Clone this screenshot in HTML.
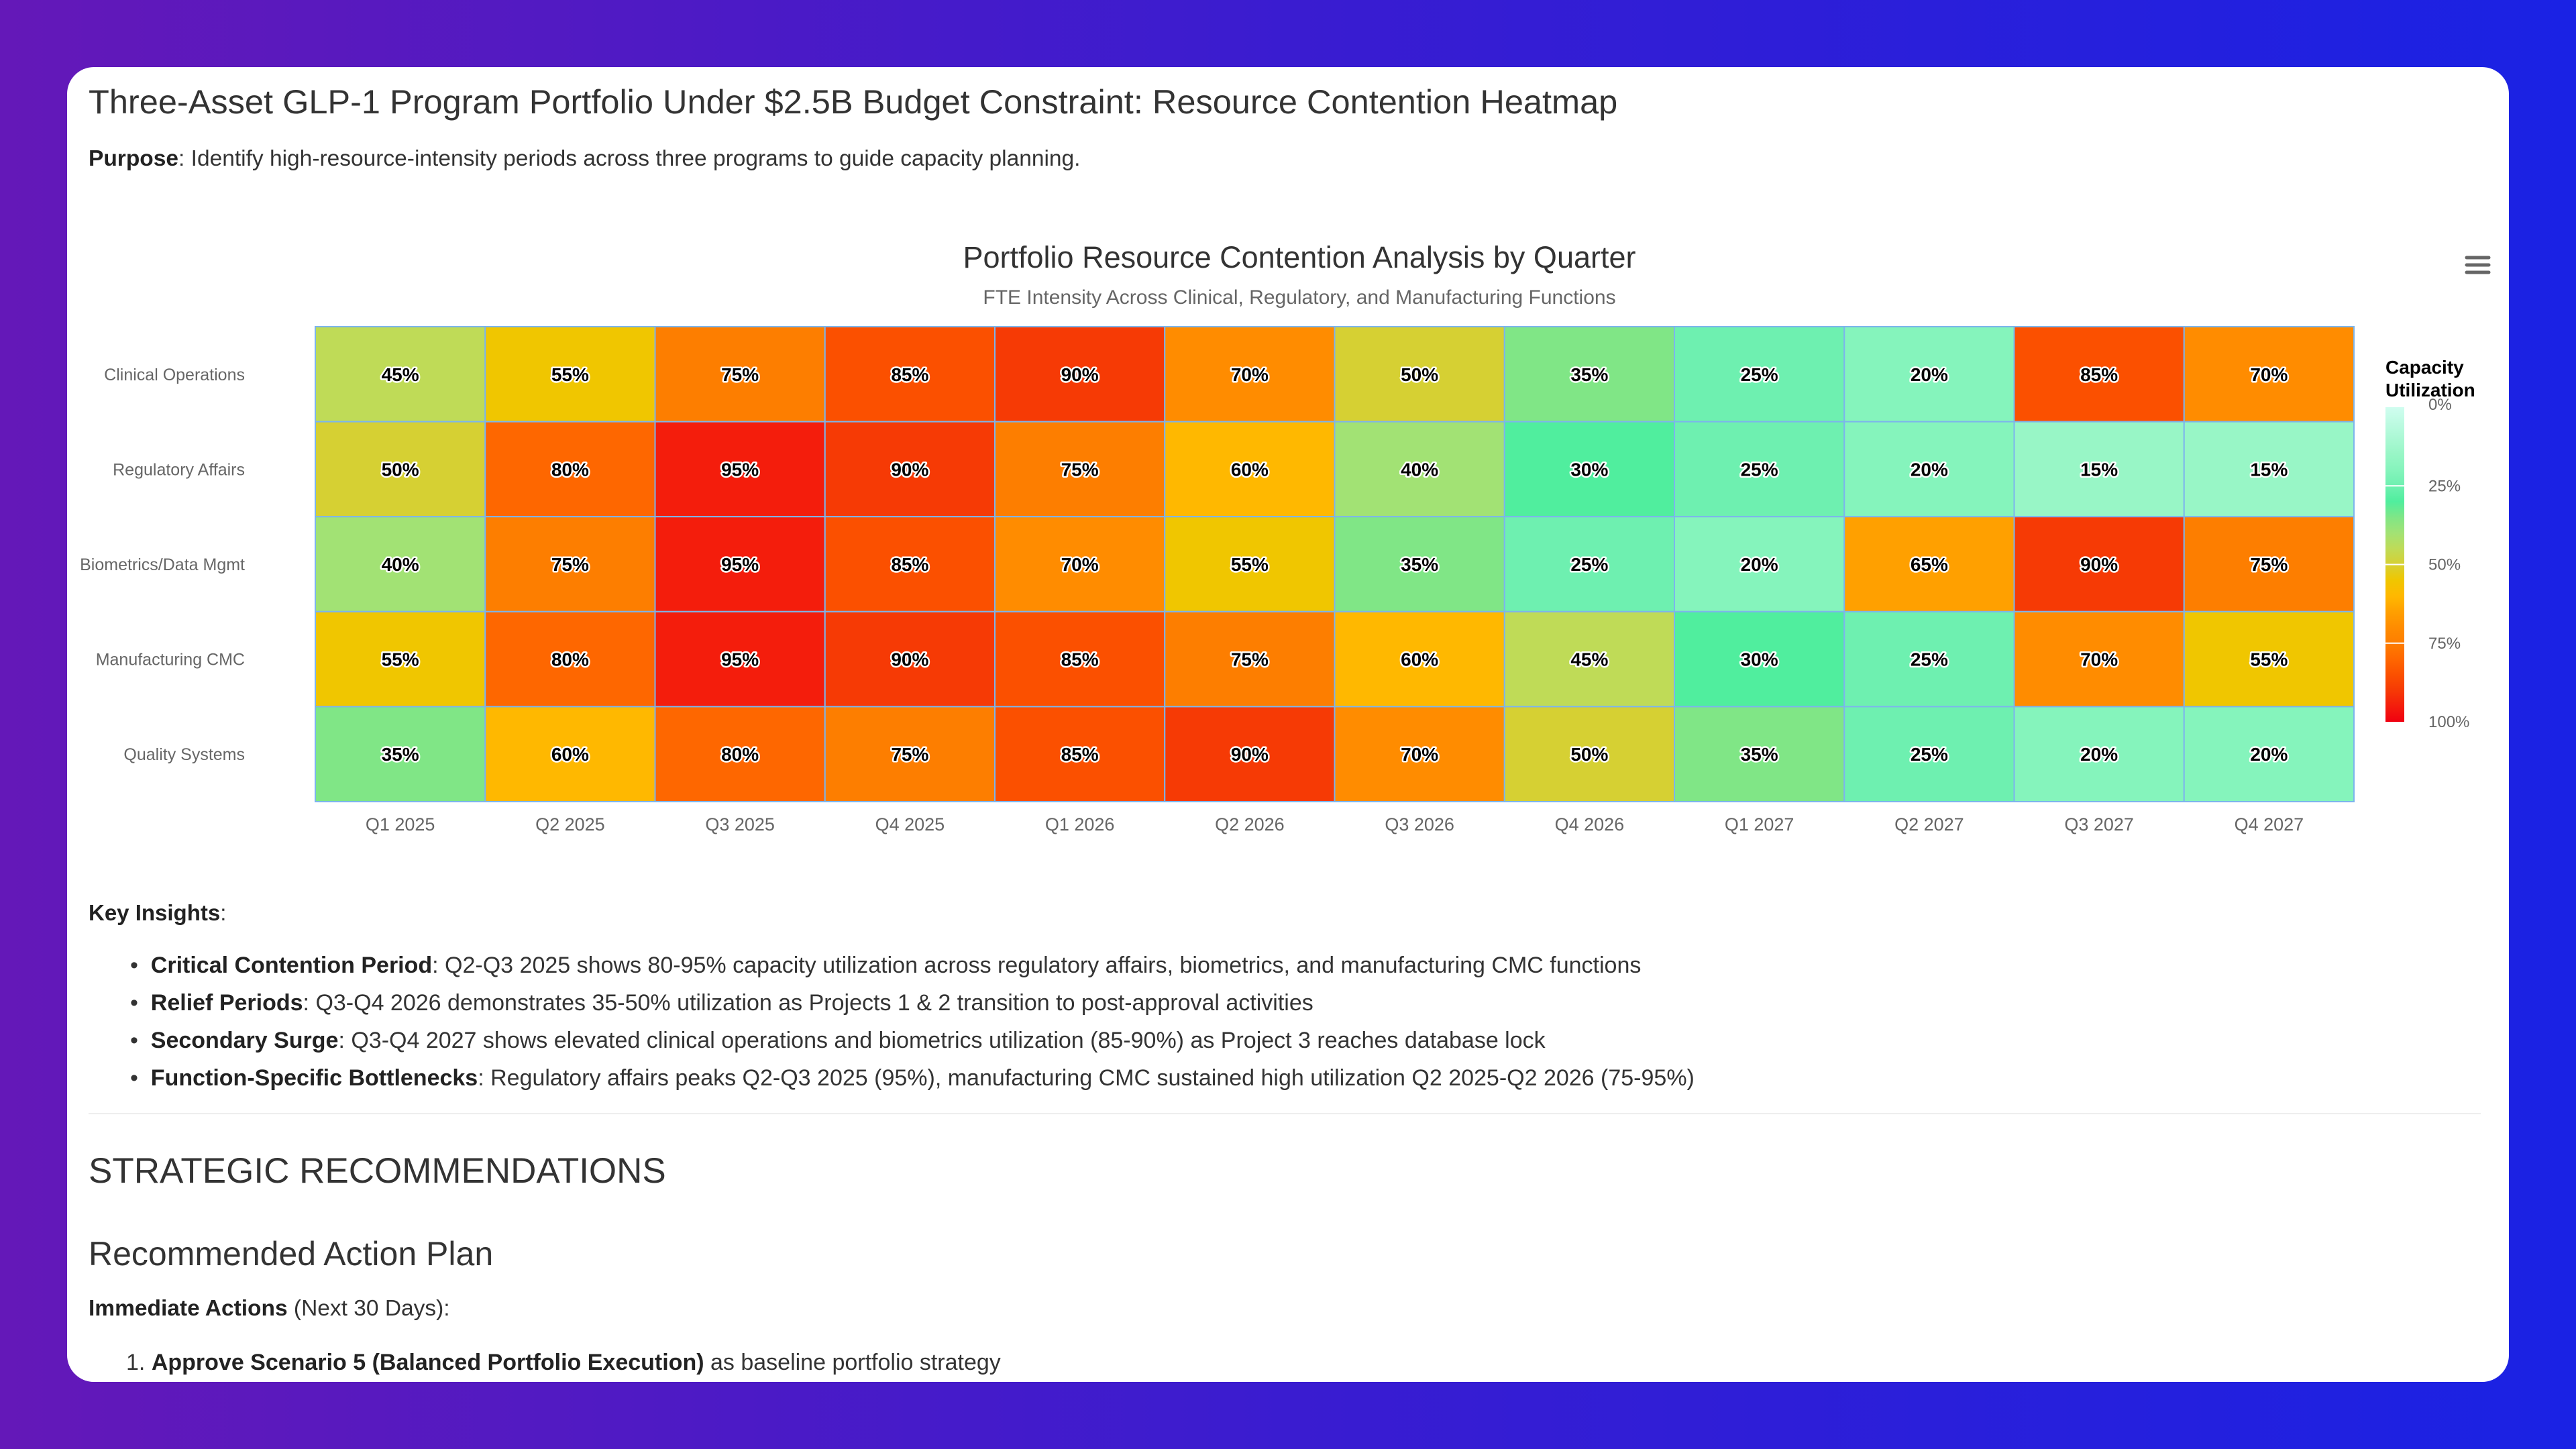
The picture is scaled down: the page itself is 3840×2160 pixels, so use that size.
<!DOCTYPE html>
<html><head><meta charset="utf-8"><style>
*{margin:0;padding:0;box-sizing:border-box}
body{width:3840px;height:2160px;overflow:hidden;background:linear-gradient(90deg,#6418b8 0%,#3a1cd0 50%,#1a22e4 100%);font-family:"Liberation Sans",sans-serif;color:#333}
#card{position:absolute;left:100px;top:100px;width:3640px;height:1960px;background:#fff;border-radius:40px;overflow:hidden}
.t{position:absolute;white-space:nowrap}
b{font-weight:bold;color:#222}
ul li{position:absolute;list-style:none;white-space:nowrap;font-size:34px}
</style></head><body>
<div id="card">
<div class="t" style="left:32px;top:22px;font-size:50.5px;color:#333">Three-Asset GLP-1 Program Portfolio Under $2.5B Budget Constraint: Resource Contention Heatmap</div>
<div class="t" style="left:32px;top:118px;font-size:33.5px"><b>Purpose</b>: Identify high-resource-intensity periods across three programs to guide capacity planning.</div>
<svg id="chart" width="3640" height="1160" style="position:absolute;left:0;top:0"></svg>
<div class="t" style="left:32px;top:1242px;font-size:33px"><b>Key Insights</b>:</div>
<ul>
<li style="left:94px;top:1320px">•&nbsp;&nbsp;<b>Critical Contention Period</b>: Q2-Q3 2025 shows 80-95% capacity utilization across regulatory affairs, biometrics, and manufacturing CMC functions</li>
<li style="left:94px;top:1376px">•&nbsp;&nbsp;<b>Relief Periods</b>: Q3-Q4 2026 demonstrates 35-50% utilization as Projects 1 &amp; 2 transition to post-approval activities</li>
<li style="left:94px;top:1432px">•&nbsp;&nbsp;<b>Secondary Surge</b>: Q3-Q4 2027 shows elevated clinical operations and biometrics utilization (85-90%) as Project 3 reaches database lock</li>
<li style="left:94px;top:1488px">•&nbsp;&nbsp;<b>Function-Specific Bottlenecks</b>: Regulatory affairs peaks Q2-Q3 2025 (95%), manufacturing CMC sustained high utilization Q2 2025-Q2 2026 (75-95%)</li>
</ul>
<div style="position:absolute;left:32px;top:1559px;width:3566px;border-top:2px solid #eee"></div>
<div class="t" style="left:32px;top:1615px;font-size:53px;color:#333">STRATEGIC RECOMMENDATIONS</div>
<div class="t" style="left:32px;top:1740px;font-size:50px;color:#333">Recommended Action Plan</div>
<div class="t" style="left:32px;top:1832px;font-size:33.5px"><b>Immediate Actions</b> (Next 30 Days):</div>
<div class="t" style="left:88px;top:1912px;font-size:34px">1. <b>Approve Scenario 5 (Balanced Portfolio Execution)</b> as baseline portfolio strategy</div>
</div>
<script>
const categories=["Q1 2025","Q2 2025","Q3 2025","Q4 2025","Q1 2026","Q2 2026","Q3 2026","Q4 2026","Q1 2027","Q2 2027","Q3 2027","Q4 2027"];
const functions=["Clinical Operations","Regulatory Affairs","Biometrics/Data Mgmt","Manufacturing CMC","Quality Systems"];
const clinicalOps=[45,55,75,85,90,70,50,35,25,20,85,70];
const regulatoryAffairs=[50,80,95,90,75,60,40,30,25,20,15,15];
const biometrics=[40,75,95,85,70,55,35,25,20,65,90,75];
const manufacturingCMC=[55,80,95,90,85,75,60,45,30,25,70,55];
const qualitySystems=[35,60,80,75,85,90,70,50,35,25,20,20];
const legendTicks=[0,25,50,75,100];
const series=[clinicalOps,regulatoryAffairs,biometrics,manufacturingCMC,qualitySystems];

const stops=[[0,'#d0fdf0'],[0.15,'#98f6c6'],[0.2,'#85f4bc'],[0.25,'#6ef0b0'],[0.3,'#50ee9e'],[0.35,'#80e686'],[0.4,'#a2e274'],[0.45,'#bfdb57'],[0.5,'#d6d033'],[0.55,'#f0c600'],[0.6,'#ffb800'],[0.65,'#ffa000'],[0.7,'#ff8c00'],[0.75,'#fd7e00'],[0.8,'#fe6700'],[0.85,'#fb5000'],[0.9,'#f63a05'],[0.95,'#f41d0c'],[1,'#f00010']];
function hex(c){return [1,3,5].map(i=>parseInt(c.substr(i,2),16));}
function color(v){const t=v/100;for(let i=1;i<stops.length;i++){if(t<=stops[i][0]){const a=stops[i-1],b=stops[i];const f=(t-a[0])/(b[0]-a[0]);const ca=hex(a[1]),cb=hex(b[1]);return 'rgb('+ca.map((x,k)=>Math.round(x+(cb[k]-x)*f)).join(',')+')';}}return stops[stops.length-1][1];}

const NS='http://www.w3.org/2000/svg';
const svg=document.getElementById('chart');
function el(tag,attrs,parent){const e=document.createElementNS(NS,tag);for(const k in attrs)e.setAttribute(k,attrs[k]);(parent||svg).appendChild(e);return e;}
const X0=370,X1=3409,Y0=387,Y1=1095;
const cw=(X1-X0)/categories.length, ch=(Y1-Y0)/functions.length;
function xPos(i){return X0+i*cw;}
function yPos(j){return Y0+j*ch;}

let t=el('text',{x:1837,y:299,'text-anchor':'middle','font-size':45,fill:'#333'});t.textContent='Portfolio Resource Contention Analysis by Quarter';


t=el('text',{x:1837,y:353,'text-anchor':'middle','font-size':30,fill:'#666'});t.textContent='FTE Intensity Across Clinical, Regulatory, and Manufacturing Functions';



series.forEach((row,j)=>{row.forEach((v,i)=>{
  const r=el('rect',{x:xPos(i),y:yPos(j),width:cw,height:ch,fill:color(v),stroke:'#7cb5ec','stroke-width':2});
  
  
  const lt=el('text',{x:xPos(i)+cw/2,y:yPos(j)+ch/2+10,'text-anchor':'middle','font-size':28,'font-weight':'bold',fill:'#000',stroke:'#fff','stroke-width':5,'paint-order':'stroke','stroke-linejoin':'round'});
  lt.textContent=v+'%';
  
  
});});
functions.forEach((f,j)=>{const lt=el('text',{x:265,y:yPos(j)+ch/2+9,'text-anchor':'end','font-size':25,fill:'#666'});lt.textContent=f;
  
  });
categories.forEach((c,i)=>{const lt=el('text',{x:xPos(i)+cw/2,y:1138,'text-anchor':'middle','font-size':27,fill:'#666'});lt.textContent=c;
  
  });

// legend
const LX=3456,LY0=507,LY1=976;
const defs=el('defs',{});
const g=el('linearGradient',{id:'lg',x1:0,y1:0,x2:0,y2:1},defs);
stops.forEach(s=>el('stop',{offset:s[0],'stop-color':s[1]},g));
t=el('text',{x:3456,y:457,'font-size':28,'font-weight':'bold',fill:'#000'});t.textContent='Capacity';


t=el('text',{x:3456,y:491,'font-size':28,'font-weight':'bold',fill:'#000'});t.textContent='Utilization';


const lr=el('rect',{x:LX,y:LY0,width:28,height:LY1-LY0,fill:'url(#lg)'});


function ly(v){return LY0+(LY1-LY0)*v/100;}
legendTicks.forEach(v=>{
  if(v>0&&v<100){const ln=el('line',{x1:LX,x2:LX+28,y1:ly(v),y2:ly(v),stroke:'#fff','stroke-width':2});
  
  }
  const lt=el('text',{x:3520,y:ly(v)+(v===0?4:8),'font-size':24,fill:'#666'});lt.textContent=v+'%';
  
  
});
// menu
const mg=el('g',{});


[284,295,306].forEach(y=>el('line',{x1:3577,x2:3610,y1:y,y2:y,stroke:'#666','stroke-width':5,'stroke-linecap':'round'},mg));
</script>
</body></html>
